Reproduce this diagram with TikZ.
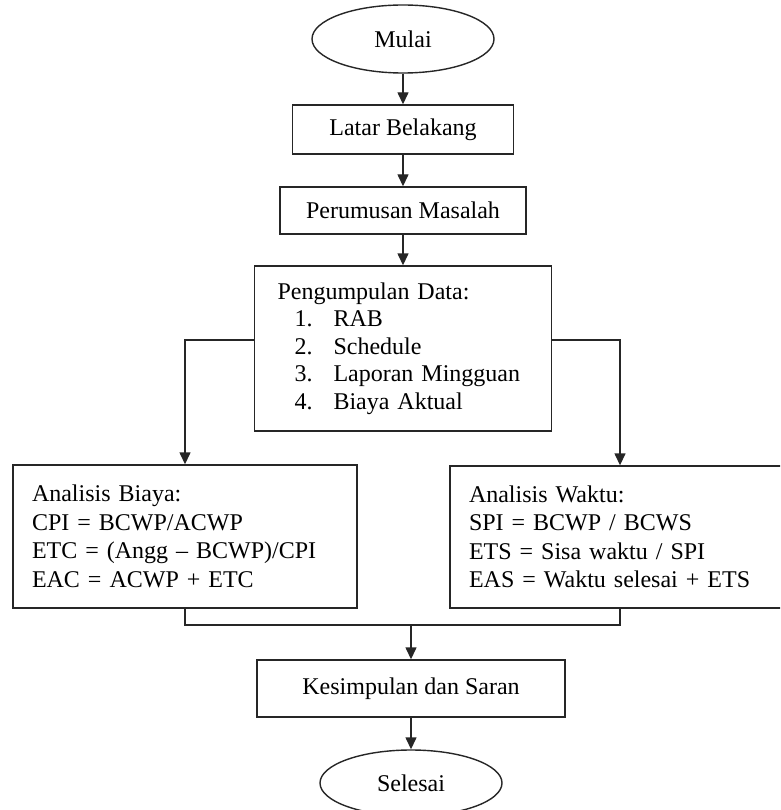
\documentclass[tikz,border=0pt]{standalone}
\usepackage{fontspec}
\setmainfont{Liberation Serif}
\usetikzlibrary{shapes.geometric,arrows.meta}
\begin{document}
\begin{tikzpicture}[x=1pt,y=-1pt,
  every node/.style={font=\fontsize{24}{28.5}\selectfont, text=black},
  line/.style={draw=black!85, line width=1.4pt},
  arr/.style={line, -{Triangle[width=11pt,length=12pt]}},
  term/.style={line, ellipse, inner sep=0pt, minimum width=182pt, minimum height=68pt},
  box/.style={line, rectangle, inner sep=0pt},
  bigbox/.style={line, rectangle, align=left, inner xsep=19pt, inner ysep=0pt}]
\clip (0,0) rectangle (780,810);
\node[term] (mulai) at (403,39) {Mulai};
\node[box, minimum width=221pt, minimum height=49pt] (latar) at (403,129.5) {Latar Belakang};
\node[box, minimum width=246pt, minimum height=47pt] (perumusan) at (403,210.5) {Perumusan Masalah};
\node[bigbox, font=\fontsize{24}{27.5}\selectfont, text width=251pt, inner xsep=23pt, minimum height=165pt] (data) at (403,348.5)
  {Pengumpulan Data:\\
   \hspace*{17pt}\makebox[39pt][l]{1.}RAB\\
   \hspace*{17pt}\makebox[39pt][l]{2.}Schedule\\
   \hspace*{17pt}\makebox[39pt][l]{3.}Laporan Mingguan\\
   \hspace*{17pt}\makebox[39pt][l]{4.}Biaya Aktual};
\node[bigbox, text width=306pt, minimum height=143pt] (biaya) at (185,536.5)
  {Analisis Biaya:\\ CPI = BCWP/ACWP\\ ETC = (Angg – BCWP)/CPI\\ EAC = ACWP + ETC};
\node[bigbox, text width=302pt, minimum height=142pt] (waktu) at (620,537)
  {Analisis Waktu:\\ SPI = BCWP / BCWS\\ ETS = Sisa waktu / SPI\\ EAS = Waktu selesai + ETS};
\node[box, minimum width=308pt, minimum height=57pt] (kes) at (411,688.5) {Kesimpulan dan Saran};
\node[term, minimum height=66pt] (selesai) at (411,783) {Selesai};
\coordinate (join) at (411,625);
\draw[arr] (mulai) -- (latar);
\draw[arr] (latar) -- (perumusan);
\draw[arr] (perumusan) -- (data);
\draw[arr] ([yshift=8.5pt]data.west) -| (biaya.north);
\draw[arr] ([yshift=8.5pt]data.east) -| (waktu.north);
\draw[line] (biaya.south) |- (join) -| (waktu.south);
\draw[arr] (join) -- (kes);
\draw[arr] (kes) -- (selesai);
\end{tikzpicture}
\end{document}
